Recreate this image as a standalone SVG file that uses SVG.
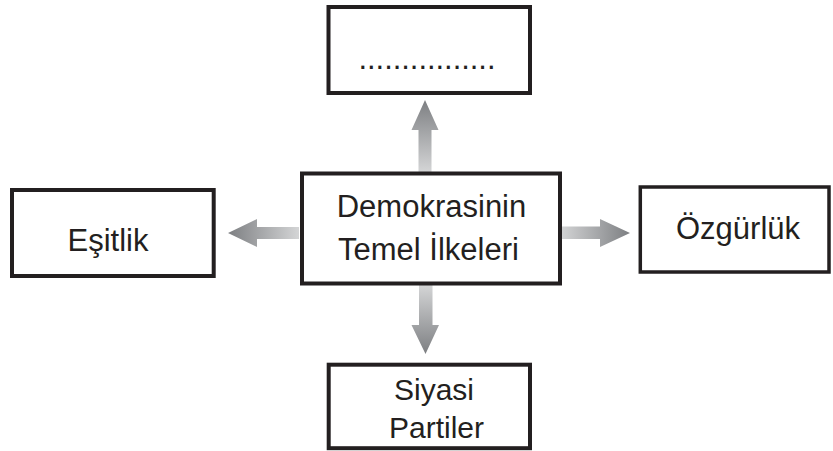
<svg xmlns="http://www.w3.org/2000/svg" width="833" height="451" viewBox="0 0 833 451">
<style>
.box{fill:#fff;stroke:#231f20;stroke-width:4}
.t{font-family:"Liberation Sans",Arial,sans-serif;font-size:31px;fill:#231f20;text-anchor:middle}
</style>
<defs>
<linearGradient id="gUp" x1="0" y1="1" x2="0" y2="0"><stop offset="0" stop-color="#d4d5d6"/><stop offset="1" stop-color="#7d7f82"/></linearGradient>
<linearGradient id="gDown" x1="0" y1="0" x2="0" y2="1"><stop offset="0" stop-color="#d4d5d6"/><stop offset="1" stop-color="#7d7f82"/></linearGradient>
<linearGradient id="gLeft" x1="1" y1="0" x2="0" y2="0"><stop offset="0" stop-color="#d4d5d6"/><stop offset="1" stop-color="#7d7f82"/></linearGradient>
<linearGradient id="gRight" x1="0" y1="0" x2="1" y2="0"><stop offset="0" stop-color="#d4d5d6"/><stop offset="1" stop-color="#7d7f82"/></linearGradient>
</defs>
<g id="connectors">
<polygon fill="url(#gUp)" points="418.5,172 418.5,130 411.5,130 425,100 438.5,130 431.5,130 431.5,172"/>
<polygon fill="url(#gDown)" points="419,285 419,325 411.5,325 425.5,354 439,325 432.5,325 432.5,285"/>
<polygon fill="url(#gLeft)" points="299,227 257,227 257,219 228,233 257,247 257,239 299,239"/>
<polygon fill="url(#gRight)" points="560,226.5 600,226.5 600,219 630,233 600,247 600,239 560,239"/>
</g>
<g id="node-top">
<rect class="box" x="328.5" y="7" width="201.5" height="86"/>
<text class="t" x="427" y="69" textLength="137" lengthAdjust="spacing">................</text>
</g>
<g id="node-center">
<rect class="box" x="302" y="173.5" width="258" height="110"/>
<text class="t" x="431.5" y="217">Demokrasinin</text>
<text class="t" x="428.5" y="260">Temel İlkeleri</text>
</g>
<g id="node-left">
<rect class="box" x="12" y="190" width="201.7" height="86"/>
<text class="t" x="108" y="251">Eşitlik</text>
</g>
<g id="node-right">
<rect class="box" x="640.3" y="187" width="188.7" height="85" style="stroke-width:3.5"/>
<text class="t" x="738" y="239">Özgürlük</text>
</g>
<g id="node-bottom">
<rect class="box" x="328.7" y="364.7" width="201.3" height="83.5"/>
<text class="t" x="434" y="400" style="font-size:30px">Siyasi</text>
<text class="t" x="436.5" y="438" style="font-size:30px">Partiler</text>
</g>
</svg>
